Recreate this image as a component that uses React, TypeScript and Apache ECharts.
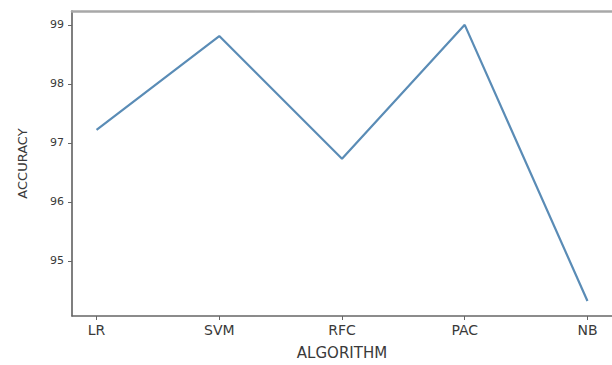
import React, { useEffect, useRef } from "react";
import * as echarts from "echarts";

const categories = ["LR", "SVM", "RFC", "PAC", "NB"];
const accuracy = [97.22, 98.81, 96.73, 99.0, 94.32];
const yTicks = [95, 96, 97, 98, 99];

export default function App() {
  const ref = useRef<HTMLDivElement>(null);
  useEffect(() => {
    if (!ref.current) return;
    const chart = echarts.init(ref.current, null, { renderer: "svg" });
    const xIdx = categories.map((_, i) => i);
    const font = "DejaVu Sans";
    chart.setOption({
      animation: false,
      backgroundColor: "#ffffff",
      grid: { left: 72, right: -10, top: 11, bottom: 44, containLabel: false },
      xAxis: [
        {
          type: "value",
          min: -0.2,
          max: 4.2,
          position: "bottom",
          name: "ALGORITHM",
          nameLocation: "middle",
          nameGap: 29,
          nameTextStyle: { fontFamily: font, fontSize: 15, color: "#3a3a3a" },
          axisLine: { show: true, onZero: false, lineStyle: { color: "#666", width: 1.5 } },
          axisTick: { show: true, customValues: xIdx, length: 4, lineStyle: { color: "#666" } },
          axisLabel: {
            customValues: xIdx,
            formatter: (v: number) => categories[Math.round(v)] ?? "",
            fontFamily: font,
            fontSize: 14,
            color: "#3a3a3a",
            margin: 7,
          },
          splitLine: { show: false },
        },
        {
          type: "value",
          min: -0.2,
          max: 4.2,
          position: "top",
          axisLine: { show: true, onZero: false, lineStyle: { color: "#a8a8a8", width: 2.5 } },
          axisTick: { show: false },
          axisLabel: { show: false },
          splitLine: { show: false },
        },
      ],
      yAxis: {
        type: "value",
        min: 94.065,
        max: 99.235,
        name: "ACCURACY",
        nameLocation: "middle",
        nameGap: 43,
        nameTextStyle: { fontFamily: font, fontSize: 13, color: "#3a3a3a" },
        axisLine: { show: true, onZero: false, lineStyle: { color: "#555", width: 1.5 } },
        axisTick: { show: true, customValues: yTicks, length: 4, lineStyle: { color: "#666" } },
        axisLabel: {
          customValues: yTicks,
          fontFamily: font,
          fontSize: 11,
          color: "#3a3a3a",
          margin: 8,
        },
        splitLine: { show: false },
      },
      series: [
        {
          type: "line",
          xAxisIndex: 0,
          data: accuracy.map((v, i) => [i, v]),
          showSymbol: false,
          lineStyle: { color: "#5a8cb6", width: 2.2 },
        },
      ],
    });
    return () => chart.dispose();
  }, []);
  return (
    <div
      ref={ref}
      style={{ position: "fixed", left: 0, top: 0, width: 612, height: 365 }}
    />
  );
}
